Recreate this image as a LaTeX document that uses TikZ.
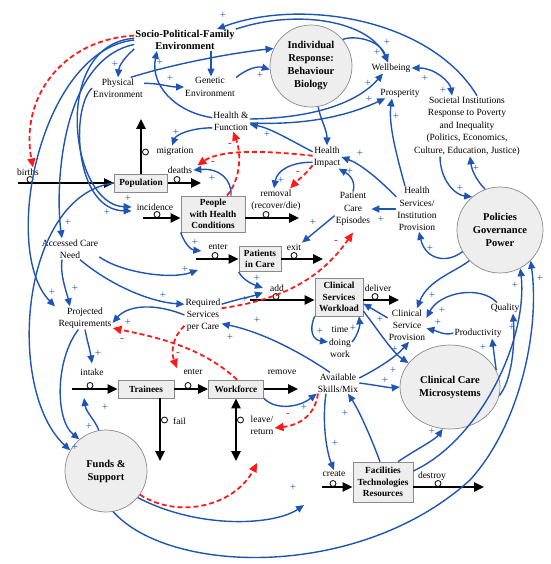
\documentclass[tikz,border=0pt]{standalone}
\usepackage{fontspec}
\setmainfont{Liberation Serif}
\usetikzlibrary{arrows.meta,shapes.geometric}
\definecolor{cblue}{HTML}{1E55B4}
\definecolor{cred}{HTML}{FF1A1A}
\definecolor{cfill}{HTML}{EEEEEE}
\definecolor{cedge}{HTML}{8A8A8A}
\begin{document}
\begin{tikzpicture}[x=1pt,y=-1pt,
 lab/.style={font=\fontsize{9.5}{12.2}\selectfont, align=center, inner sep=1pt},
 blab/.style={font=\bfseries\fontsize{10.5}{12}\selectfont, align=center, inner sep=1pt},
 stock/.style={draw=cedge, fill=cfill, font=\bfseries\fontsize{9.3}{11.5}\selectfont, align=center, inner sep=1pt, line width=0.7pt},
 bigc/.style={circle, draw=cedge, fill=cfill, font=\bfseries\fontsize{10.5}{13}\selectfont, align=center, inner sep=0pt, line width=0.7pt},
 bigell/.style={ellipse, draw=cedge, fill=cfill, font=\bfseries\fontsize{10.5}{13}\selectfont, align=center, inner sep=0pt, line width=0.7pt, minimum width=100pt, minimum height=84pt},
 con/.style={draw=cblue, line width=1.4pt, -{Triangle[length=8pt,width=7pt]}},
 con2/.style={draw=cblue, line width=1.4pt, {Triangle[length=8pt,width=7pt]}-{Triangle[length=8pt,width=7pt]}},
 neg/.style={draw=cred, line width=1.8pt, dash pattern=on 5pt off 3pt, -{Triangle[length=9pt,width=8pt]}},
 flow/.style={draw=black, line width=2.4pt, -{Triangle[length=10pt,width=9pt]}},
 flow2/.style={draw=black, line width=2.4pt, {Triangle[length=10pt,width=9pt]}-{Triangle[length=10pt,width=9pt]}},
 pl/.style={text=cblue, font=\fontsize{11}{11}\selectfont, inner sep=0pt},
 mi/.style={text=cred, font=\bfseries\fontsize{11}{11}\selectfont, inner sep=0pt},
 valve/.style={circle, draw=black, line width=0.8pt, minimum size=6pt, inner sep=0pt}
]
\useasboundingbox (0,0) rectangle (550,564);

% ---------- main nodes ----------
\node[blab] (sp) at (185,40) {Socio-Political-Family\\Environment};
\node[lab] (phys) at (118,88) {Physical\\Environment};
\node[lab] (gen) at (210,87) {Genetic\\Environment};
\node[bigc, minimum size=82pt] (ind) at (311,66) {Individual\\Response:\\Behaviour\\Biology};
\node[lab] (wb) at (391,68) {Wellbeing};
\node[lab] (pros) at (400,93) {Prosperity};
\node[lab, font=\fontsize{9.5}{12.4}\selectfont] (soc) at (467,126) {Societal Institutions\\Response to Poverty\\and Inequality\\(Politics, Economics,\\Culture, Education, Justice)};
\node[lab] (hf) at (231,121) {Health \&\\Function};
\node[lab] (hi) at (327,157) {Health\\Impact};
\node[lab] (pce) at (353,209) {Patient\\Care\\Episodes};
\node[lab] (hs) at (417,209) {Health\\Services/\\Institution\\Provision};
\node[bigc, minimum size=86pt] (pol) at (500,230) {Policies\\Governance\\Power};
\node[stock, minimum width=53pt, minimum height=18pt] (pop) at (141,183) {Population};
\node[stock, minimum width=64pt, minimum height=36pt] (phc) at (213,214) {People\\with Health\\Conditions};
\node[stock, minimum width=42pt, minimum height=25pt] (pic) at (260,259) {Patients\\in Care};
\node[stock, minimum width=48pt, minimum height=38pt] (csw) at (339,297) {Clinical\\Services\\Workload};
\node[lab] (tdw) at (340,342) {time\\doing\\work};
\node[lab] (csp) at (407,325) {Clinical\\Service\\Provision};
\node[lab] (qual) at (505,308) {Quality};
\node[lab] (prod) at (478,333) {Productivity};
\node[bigell] (ccm) at (450,387) {Clinical Care\\Microsystems};
\node[lab] (av) at (338,383) {Available\\Skills/Mix};
\node[lab] (req) at (203,315) {Required\\Services\\per Care};
\node[lab] (proj) at (85,318) {Projected\\Requirements};
\node[lab] (acn) at (70,249) {Accessed Care\\Need};
\node[stock, minimum width=56pt, minimum height=18pt] (tr) at (146,389) {Trainees};
\node[stock, minimum width=55pt, minimum height=18pt] (wf) at (236,389) {Workforce};
\node[bigc, minimum size=82pt] (fund) at (106,471) {Funds \&\\Support};
\node[stock, minimum width=60pt, minimum height=40pt] (fac) at (383,482) {Facilities\\Technologies\\Resources};

% ---------- flow labels ----------
\node[lab] (brt) at (28,172) {births};
\node[lab] (dth) at (180,170) {deaths};
\node[lab] (mig) at (175,151) {migration};
\node[lab] (inc) at (155,207) {incidence};
\node[lab] (rem) at (276,200) {removal\\(recover/die)};
\node[lab] (ent) at (218,247) {enter};
\node[lab] (ext) at (294,247) {exit};
\node[lab] (add) at (277,288) {add};
\node[lab] (dlv) at (378,288) {deliver};
\node[lab] (intk) at (92,372) {intake};
\node[lab] (ent2) at (193,372) {enter};
\node[lab] (rmv) at (282,372) {remove};
\node[lab, anchor=west] (fail) at (172,421) {fail};
\node[lab] (lr) at (262,425) {leave/\\return};
\node[lab] (cre) at (334,474) {create};
\node[lab] (dst) at (432,476) {destroy};

% ---------- free ends ----------
\coordinate (birthsL) at (18,183);
\coordinate (deathsR) at (201,183);
\coordinate (migTop) at (141,119);
\coordinate (incL) at (143,218);
\coordinate (remR) at (299,218);
\coordinate (entL) at (196,259);
\coordinate (exitR) at (323,259);
\coordinate (addL) at (250,300);
\coordinate (delR) at (399,300);
\coordinate (intkL) at (72,389);
\coordinate (remvR) at (298,389);
\coordinate (failB) at (160,461);
\coordinate (lrB) at (236,461);
\coordinate (createL) at (322,487);
\coordinate (destR) at (484,487);
\coordinate (acnTip) at (198,270);
\coordinate (intkTip) at (84,398);
\coordinate (fundTip) at (304,505);
\coordinate (rTip) at (257,463);

% ---------- flows ----------
\draw[flow] (birthsL) -- (pop.west);
\draw[flow] (pop.east) -- (deathsR);
\draw[flow] (pop.north) -- (migTop);
\draw[flow] (incL) -- ([yshift=-4pt]phc.west);
\draw[flow] ([yshift=-4pt]phc.east) -- (remR);
\draw[flow] (entL) -- (pic.west);
\draw[flow] (pic.east) -- (exitR);
\draw[flow] (addL) -- ([yshift=-3pt]csw.west);
\draw[flow] ([yshift=-3pt]csw.east) -- (delR);
\draw[flow] (intkL) -- (tr.west);
\draw[flow] (tr.east) -- (wf.west);
\draw[flow] (wf.east) -- (remvR);
\draw[flow] ([xshift=14pt]tr.south) -- (failB);
\draw[flow2] (wf.south) -- (lrB);
\draw[flow] (createL) -- ([yshift=-5pt]fac.west);
\draw[flow] ([yshift=-5pt]fac.east) -- (destR);

% valves
\node[valve] (v1) at (30,179.5) {};
\node[valve] (v2) at (177,179.5) {};
\node[valve] (v3) at (145.5,152) {};
\node[valve] (v4) at (157,214.5) {};
\node[valve] (v5) at (266,214.5) {};
\node[valve] (v6) at (215,255.5) {};
\node[valve] (v7) at (294,255.5) {};
\node[valve] (v8) at (276,296.5) {};
\node[valve] (v9) at (375,296.5) {};
\node[valve] (v10) at (90,385.5) {};
\node[valve] (v11) at (188,385.5) {};
\node[valve] (v12) at (164.5,420) {};
\node[valve] (v13) at (240.5,420) {};
\node[valve] (v14) at (333,483.5) {};
\node[valve] (v15) at (438,483.5) {};

% ---------- blue causal links ----------
\draw[con] (sp.190) .. controls (124,58) and (119,66) .. (phys.north);
\draw[con] ([xshift=26pt]sp.south) -- ([xshift=1pt]gen.north);
\draw[con] (hf.170) .. controls (175,112) and (150,85) .. ([xshift=-28pt]sp.south);
\draw[con] (phys.10) .. controls (158,83) and (170,87) .. (gen.west);
\draw[con] (phys.40) .. controls (180,62) and (240,52) .. (ind.155);
\draw[con] (gen.20) .. controls (248,68) and (258,66) .. (ind.185);
\draw[con] ([xshift=10pt]soc.north) .. controls (430,18) and (300,-2) .. ([xshift=32pt]sp.north);
\draw[con] (sp.north east) .. controls (300,8) and (370,22) .. ([xshift=-3pt]wb.north);
\draw[con] (ind.40) .. controls (355,35) and (380,40) .. ([xshift=-3pt]wb.north);
\draw[con] ([yshift=2pt]hf.east) .. controls (320,118) and (360,100) .. ([xshift=-8pt]wb.south);
\draw[con] ([yshift=-2pt]hf.east) .. controls (320,126) and (360,110) .. (pros.200);
\draw[con] (ind.-80) .. controls (320,118) and (327,130) .. (hi.north);
\draw[con2] (wb.east) .. controls (435,68) and (450,82) .. ([xshift=-15pt]soc.north);
\draw[con] ([xshift=-12pt]hs.north) .. controls (398,160) and (388,125) .. ([xshift=-8pt]pros.south);
\draw[con] ([xshift=-27pt]soc.south) .. controls (440,180) and (455,195) .. (pol.130);
\draw[con] (pol.110) .. controls (478,182) and (472,172) .. ([xshift=3pt]soc.south);
\draw[con] (hf.200) .. controls (190,128) and (176,135) .. ([xshift=-3pt]mig.north);
\draw[con] (hi.160) .. controls (290,140) and (270,128) .. (hf.-10);
\draw[con] (hs.150) .. controls (375,175) and (358,163) .. (hi.east);
\draw[con] (pce.north) .. controls (356,182) and (350,175) .. (hi.-45);
\draw[con] (hi.200) .. controls (292,162) and (277,170) .. ([xshift=-2pt]rem.north);
\draw[con] ([xshift=18pt]phc.north) .. controls (232,180) and (220,168) .. (dth.east);
\draw[con] (hs.west) -- (pce.east);
\draw[con] (pce.200) -- ([xshift=8pt]ext.north);
\draw[con] (pol.-150) .. controls (445,265) and (425,258) .. ([xshift=2pt]hs.south);
\draw[con] (pol.-135) .. controls (455,272) and (428,280) .. ([xshift=10pt]csp.north);
\draw[con] ([xshift=-8pt]qual.north) .. controls (480,285) and (440,292) .. (csp.20);
\draw[con] (prod.west) .. controls (445,336) and (437,331) .. (csp.-10);
\draw[con] (ccm.20) -- ([xshift=14pt]prod.south);
\draw[con] (ccm.-10) .. controls (512,380) and (515,345) .. ([xshift=8pt]qual.south);
\draw[con] (fac.20) .. controls (480,440) and (528,340) .. (pol.-62);
\draw[con] (fund.-80) .. controls (170,575) and (360,580) .. (470,480) .. controls (520,425) and (540,330) .. (pol.-45);
\draw[con] (fund.-40) .. controls (200,530) and (275,525) .. (fundTip);
\draw[con] ([yshift=5pt]av.east) .. controls (375,370) and (395,358) .. ([xshift=2pt]csp.south);
\draw[con] (av.east) .. controls (375,385) and (390,388) .. (ccm.180);
\draw[con] (csw.-30) .. controls (378,330) and (392,352) .. (ccm.150);
\draw[con] (csp.160) -- (csw.-15);
\draw[con] (csw.south west) .. controls (308,332) and (314,340) .. (tdw.west);
\draw[con] (tdw.east) .. controls (358,335) and (360,325) .. ([xshift=20pt]csw.south);
\draw[con] ([xshift=-8pt]av.north) .. controls (300,352) and (262,332) .. (req.-25);
\draw[con] (req.30) .. controls (238,299) and (250,297) .. ([xshift=-6pt]add.south west);
\draw[con] (pic.south west) .. controls (243,280) and (252,284) .. ([xshift=-6pt]add.west);
\draw[con] (phc.south west) .. controls (185,245) and (192,250) .. ([xshift=-6pt]ent.south west);
\draw[con] (acn.-15) .. controls (120,272) and (170,280) .. (acnTip);
\draw[con] ([xshift=10pt]acn.south) .. controls (110,285) and (150,302) .. (req.150);
\draw[con] (req.180) .. controls (155,303) and (128,305) .. (proj.-10);
\draw[con] ([xshift=-8pt]acn.south) .. controls (60,275) and (66,290) .. ([xshift=-15pt]proj.north);
\draw[con] (proj.south) .. controls (87,340) and (90,350) .. ([yshift=4pt]intk.north);
\draw[con] (proj.-120) .. controls (55,360) and (55,420) .. (fund.130);
\draw[con] (pop.west) .. controls (20,195) and (5,390) .. (fund.150);
\draw[con] (sp.west) .. controls (40,50) and (0,250) .. ([xshift=-30pt]proj.north);
\draw[con] (sp.185) .. controls (60,60) and (55,190) .. ([xshift=-8pt]acn.north);
\draw[con] (sp.178) .. controls (50,45) and (70,205) .. ([xshift=-4pt]inc.west);
\draw[con] (phys.west) .. controls (70,110) and (75,210) .. ([xshift=-4pt,yshift=-4pt]inc.west);
\draw[con] (fund.100) .. controls (95,420) and (86,412) .. (intkTip);
\draw[con] (wf.south east) .. controls (275,410) and (298,408) .. (av.south west);
\draw[con] ([xshift=-12pt]av.south) .. controls (322,420) and (326,450) .. (cre.north);
\draw[con] ([xshift=-3pt]fac.north) .. controls (372,440) and (360,412) .. ([xshift=10pt]av.south);
\draw[con] ([xshift=15pt]fac.north) .. controls (415,450) and (435,440) .. (ccm.-100);

% ---------- red negative links ----------
\draw[neg] (sp.175) .. controls (60,40) and (20,100) .. ([xshift=5pt]brt.north);
\draw[neg] (hi.175) .. controls (260,150) and (220,150) .. ([xshift=4pt]dth.north east);
\draw[neg] (hi.-150) .. controls (305,175) and (298,180) .. ([xshift=14pt]rem.north);
\draw[neg] ([xshift=14pt]phc.north) .. controls (240,180) and (242,155) .. ([xshift=2pt]hf.south);
\draw[neg] (req.20) .. controls (280,300) and (320,280) .. ([yshift=-6pt]pce.south);
\draw[neg] (req.-150) .. controls (170,340) and (172,355) .. ([xshift=-16pt]ent2.north);
\draw[neg] ([xshift=1pt]wf.north) .. controls (200,345) and (150,336) .. (proj.-20);
\draw[neg] ([xshift=-20pt]av.south) .. controls (315,415) and (300,425) .. ([yshift=-3pt]lr.east);
\draw[neg] (fund.-35) .. controls (180,520) and (235,505) .. (rTip);

% ---------- polarity labels ----------
\node[pl] (p1) at (115,64) {+};
\node[pl] (p2) at (160,62) {+};
\node[pl] (p3) at (170,78) {+};
\node[pl] (p4) at (260,75) {+};
\node[pl] (p5) at (223,15) {+};
\node[pl] (p6) at (387,42) {+};
\node[pl] (p7) at (377,52) {+};
\node[pl] (p8) at (368,83) {+};
\node[pl] (p9) at (369,99) {+};
\node[pl] (p10) at (425,78) {+};
\node[pl] (p11) at (443,90) {+};
\node[pl] (p12) at (396,116) {+};
\node[pl] (p13) at (460,188) {+};
\node[pl] (p14) at (476,168) {+};
\node[pl] (p15) at (176,132) {+};
\node[pl] (p16) at (267,134) {+};
\node[pl] (p17) at (360,153) {+};
\node[pl] (p18) at (350,171) {+};
\node[pl] (p19) at (281,180) {+};
\node[pl] (p20) at (212,178) {+};
\node[pl] (p21) at (381,219) {+};
\node[pl] (p22) at (313,222) {+};
\node[pl] (p23) at (430,248) {+};
\node[pl] (p24) at (432,295) {+};
\node[pl] (p25) at (442,310) {+};
\node[pl] (p26) at (438,322) {+};
\node[pl] (p27) at (483,347) {+};
\node[pl] (p28) at (512,327) {+};
\node[pl] (p29) at (515,285) {+};
\node[pl] (p30) at (540,278) {+};
\node[pl] (p31) at (395,349) {+};
\node[pl] (p32) at (393,370) {+};
\node[pl] (p33) at (385,380) {+};
\node[pl] (p34) at (380,319) {+};
\node[pl] (p35) at (320,331) {+};
\node[pl] (p36) at (353,328) {+};
\node[pl] (p37) at (230,337) {+};
\node[pl] (p38) at (257,320) {+};
\node[pl] (p39) at (245,299) {+};
\node[pl] (p40) at (257,278) {+};
\node[pl] (p41) at (195,242) {+};
\node[pl] (p42) at (185,269) {+};
\node[pl] (p43) at (163,295) {+};
\node[pl] (p44) at (128,322) {+};
\node[pl] (p45) at (52,292) {+};
\node[pl] (p46) at (75,288) {+};
\node[pl] (p47) at (98,353) {+};
\node[pl] (p48) at (68,222) {+};
\node[pl] (p49) at (128,198) {+};
\node[pl] (p50) at (107,212) {+};
\node[pl] (p51) at (105,407) {+};
\node[pl] (p52) at (89,426) {+};
\node[pl] (p53) at (75,447) {+};
\node[pl] (p54) at (304,407) {+};
\node[pl] (p55) at (345,413) {+};
\node[pl] (p56) at (335,443) {+};
\node[pl] (p57) at (432,431) {+};
\node[pl] (p58) at (293,487) {+};

\node[mi] (m1) at (213,163) {-};
\node[mi] (m2) at (298,173) {-};
\node[mi] (m3) at (230,145) {-};
\node[mi] (m4) at (336,242) {-};
\node[mi] (m5) at (178,354) {-};
\node[mi] (m6) at (122,340) {-};
\node[mi] (m7) at (288,415) {-};
\end{tikzpicture}
\end{document}
